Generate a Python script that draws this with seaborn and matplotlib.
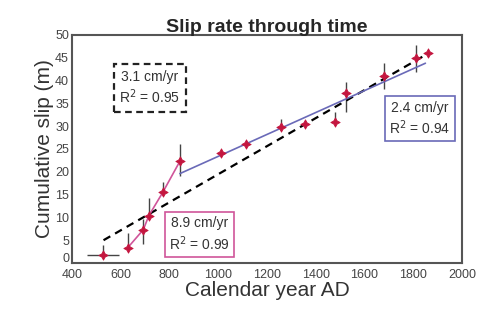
import numpy as np
import pandas as pd
import matplotlib
matplotlib.use("Agg")
import matplotlib.pyplot as plt
import matplotlib.transforms as mtransforms
import seaborn as sns

# Data
years = [527, 630, 693, 716, 773, 843, 1011, 1114, 1257, 1356, 1480, 1525, 1680, 1811, 1860]
slip = [1.8, 3.4, 7.3, 10.4, 15.5, 22.3, 24.2, 26.1, 29.8, 30.5, 31.0, 37.2, 40.9, 44.9, 46.0]
err_low = [0.0, 0.0, 3.1, 0.0, 0.0, 3.3, 0.0, 0.0, 0.0, 0.0, 0.0, 4.2, 2.8, 3.0, 0.0]
err_up = [2.2, 3.2, 2.4, 3.8, 2.2, 3.8, 0.0, 0.0, 1.8, 0.0, 2.0, 2.4, 2.9, 3.0, 0.0]
xerr_first = 65

# fitted trends
fit_all_x = [530, 1850]
fit_all_y = [5.0, 45.6]
fit_late_x = [843, 1850]
fit_late_y = [19.6, 43.8]
early_idx = [1, 2, 3, 4, 5]

labels = ["3.1 cm/yr\nR$^2$ = 0.95", "2.4 cm/yr\nR$^2$ = 0.94", "8.9 cm/yr\nR$^2$ = 0.99"]

df = pd.DataFrame({"year": years, "slip": slip})

sns.set_style("white")
plt.rcParams["font.family"] = ["Liberation Sans", "DejaVu Sans"]

fig = plt.figure(figsize=(4.92, 3.12), dpi=100)
ax = fig.add_axes([0.146, 0.157, 0.793, 0.731])

red = "#c4163f"
pink = "#d0559a"
blue = "#6a6ab8"

# error bars
xerr = np.zeros(len(years))
xerr[0] = xerr_first
ax.errorbar(years, slip, yerr=[err_low, err_up], xerr=[xerr, xerr], fmt="none",
            ecolor="#444444", elinewidth=1.0, capsize=0, zorder=2)

# lines
sns.lineplot(x=fit_all_x, y=fit_all_y, ax=ax, color="black", lw=1.6,
             linestyle=(0, (3.5, 2.5)), zorder=3)
sns.lineplot(x=fit_late_x, y=fit_late_y, ax=ax, color=blue, lw=1.2, zorder=3)
sns.lineplot(data=df.iloc[early_idx], x="year", y="slip", ax=ax, color=pink,
             lw=1.2, sort=False, zorder=3)

sns.scatterplot(data=df, x="year", y="slip", ax=ax, marker=(4, 1, 0), s=45,
                color=red, edgecolor=red, linewidth=0.6, zorder=4)

# annotation boxes
ax.text(720, 38.4, labels[0], ha="center", va="center", fontsize=10, color="#333333",
        linespacing=1.25,
        bbox=dict(boxstyle="square,pad=0.4", fc="white", ec="#222222", lw=1.6, ls=(0, (3, 2))))
ax.text(1828, 31.6, labels[1], ha="center", va="center", fontsize=10, color="#333333",
        linespacing=1.25,
        bbox=dict(boxstyle="square,pad=0.3", fc="white", ec=blue, lw=1.2))
ax.text(925, 6.2, labels[2], ha="center", va="center", fontsize=10, color="#333333",
        linespacing=1.25,
        bbox=dict(boxstyle="square,pad=0.3", fc="white", ec=pink, lw=1.2))

ax.set_xlim(400, 2000)
ax.set_ylim(0, 50)
ax.set_xticks(range(400, 2001, 200))
ax.set_yticks(range(0, 51, 5))
ax.tick_params(labelsize=9, colors="#444444", length=0)
ax.tick_params(axis="x", pad=4)
ax.tick_params(axis="y", pad=2)

# lift the "0" label a little so it clears the "400" below it
zero_lbl = ax.get_yticklabels()[0]
zero_lbl.set_transform(zero_lbl.get_transform() +
                       mtransforms.ScaledTranslation(0, 4 / 72, fig.dpi_scale_trans))

for s in ax.spines.values():
    s.set_color("#555555")
    s.set_linewidth(1.5)

ax.set_title("Slip rate through time", fontsize=14, fontweight="bold", pad=2)
ax.set_xlabel("Calendar year AD", fontsize=15, color="#333333", labelpad=0)
ax.set_ylabel("Cumulative slip (m)", fontsize=15, color="#333333", labelpad=1)

plt.savefig("out.png", dpi=100)
